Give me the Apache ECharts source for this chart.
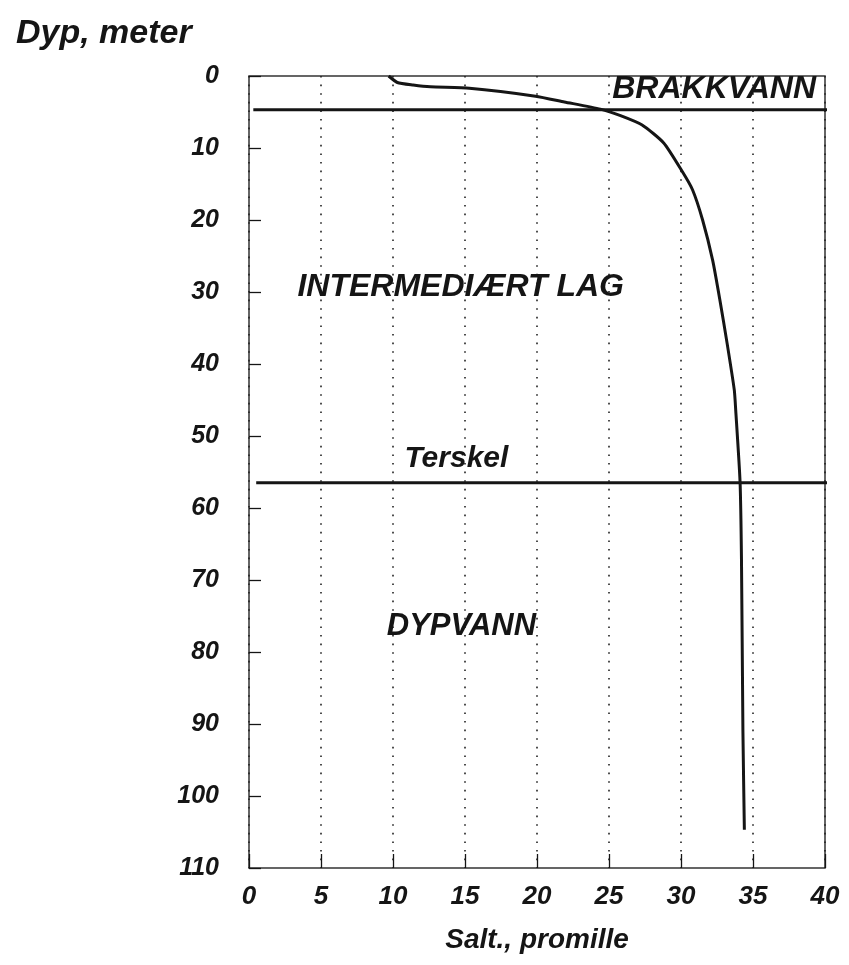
<!DOCTYPE html>
<html>
<head>
<meta charset="utf-8">
<script src="https://cdn.jsdelivr.net/npm/echarts@6/dist/echarts.min.js"></script>
<style>
  html, body { margin: 0; padding: 0; background: #fff; }
  #chart { width: 849px; height: 965px; }
</style>
</head>
<body>
<div id="chart"></div>
<script>
// salinity profile (promille) against depth (m)
const salt = [9.7, 10.3, 11.4, 12.6, 15.3, 19.9, 21.9, 24.4, 25.8, 27.3, 28.8, 30.1, 30.8, 31.5, 32.2, 32.7, 33.2, 33.7, 33.8, 34.1, 34.2, 34.3, 34.4];
const depth = [0, 0.9, 1.25, 1.5, 1.7, 2.8, 3.6, 4.6, 5.5, 6.8, 9.3, 13.3, 15.8, 20, 25.6, 31.1, 37.1, 43.6, 46.4, 56.3, 67.2, 91, 104.7];

// layer boundaries (depth, m) and how far they run in salt units
const brakkvannLine = [[0.3, 4.7], [41.7, 4.7]];
const terskelLine = [[0.5, 56.5], [40.3, 56.5]];

// text labels placed in data coordinates [salt, depth]
const zoneNames = ['BRAKKVANN', 'Terskel', 'INTERMEDIÆRT LAG', 'DYPVANN'];
const zoneSalt = [32.3, 14.4, 14.7, 14.75];
const zoneDepth = [1.8, 53.2, 29.3, 76.5];
const zoneSize = [32, 30, 32, 31];

const xTicks = [0, 5, 10, 15, 20, 25, 30, 35, 40];
const yTicks = [0, 10, 20, 30, 40, 50, 60, 70, 80, 90, 100, 110];

const font = 'Liberation Sans';
const ink = '#151515';

const chart = echarts.init(document.getElementById('chart'));

const profile = salt.map((s, i) => [s, depth[i]]);
const zones = zoneNames.map((n, i) => ({
    name: n,
    value: [zoneSalt[i], zoneDepth[i]],
    label: { fontSize: zoneSize[i] }
}));

const option = {
    animation: false,
    backgroundColor: '#fff',
    title: {
        text: 'Dyp, meter',
        left: 11,
        top: 12,
        textStyle: {
            fontFamily: font,
            fontStyle: 'italic',
            fontWeight: 'bold',
            fontSize: 34,
            color: ink
        }
    },
    grid: {
        left: 249,
        right: 24,
        top: 76,
        bottom: 97,
        show: true,
        borderColor: '#333',
        borderWidth: 1.5,
        backgroundColor: 'transparent'
    },
    xAxis: {
        type: 'value',
        min: xTicks[0],
        max: xTicks[xTicks.length - 1],
        interval: 5,
        name: 'Salt., promille',
        nameLocation: 'middle',
        nameGap: 58,
        nameTextStyle: {
            fontFamily: font,
            fontStyle: 'italic',
            fontWeight: 'bold',
            fontSize: 28,
            color: ink
        },
        axisLine: { show: false, onZero: false },
        axisTick: {
            show: true,
            inside: true,
            length: 14,
            lineStyle: { color: ink, width: 1.3 }
        },
        axisLabel: {
            margin: 16,
            fontFamily: font,
            fontStyle: 'italic',
            fontWeight: 'bold',
            fontSize: 26,
            color: ink
        },
        splitLine: {
            show: true,
            lineStyle: { color: '#222', width: 1.6, type: [1.6, 7] }
        }
    },
    yAxis: {
        type: 'value',
        inverse: true,
        min: yTicks[0],
        max: yTicks[yTicks.length - 1],
        interval: 10,
        axisLine: { show: false, onZero: false },
        axisTick: {
            show: true,
            inside: true,
            length: 12,
            lineStyle: { color: ink, width: 1.3 }
        },
        axisLabel: {
            margin: 30,
            fontFamily: font,
            fontStyle: 'italic',
            fontWeight: 'bold',
            fontSize: 25,
            color: ink
        },
        splitLine: { show: false }
    },
    series: [
        {
            name: 'Salt',
            type: 'line',
            data: profile,
            symbol: 'none',
            smooth: 0.2,
            lineStyle: { color: ink, width: 3 },
            z: 5
        },
        {
            name: 'Brakkvann',
            type: 'line',
            data: brakkvannLine,
            symbol: 'none',
            clip: false,
            lineStyle: { color: ink, width: 3 },
            z: 4
        },
        {
            name: 'Terskel',
            type: 'line',
            data: terskelLine,
            symbol: 'none',
            clip: false,
            lineStyle: { color: ink, width: 3 },
            z: 4
        },
        {
            name: 'Soner',
            type: 'scatter',
            data: zones,
            symbolSize: 1,
            itemStyle: { color: 'transparent', opacity: 1 },
            label: {
                show: true,
                position: 'inside',
                formatter: '{b}',
                fontFamily: font,
                fontStyle: 'italic',
                fontWeight: 'bold',
                color: ink,
                opacity: 1,
                textBorderWidth: 0
            },
            z: 6
        }
    ]
};

chart.setOption(option);
window.addEventListener('resize', () => {
    chart.resize()
});
</script>
</body>
</html>
